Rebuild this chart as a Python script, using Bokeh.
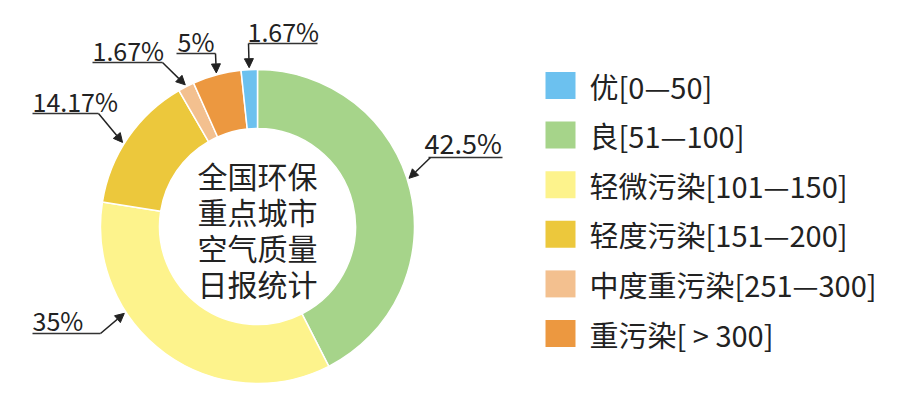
import math

from bokeh.core.properties import value
from bokeh.embed import file_html
from bokeh.models import Arrow, NormalHead, Range1d
from bokeh.plotting import figure
from bokeh.resources import INLINE

# data: air quality daily report share (clockwise from 12 o'clock)
categories = ["良[51—100]", "轻微污染[101—150]", "轻度污染[151—200]",
              "中度重污染[251—300]", "重污染[ > 300]", "优[0—50]"]
shares = [42.5, 35, 14.17, 1.67, 5, 1.67]
share_labels = ["42.5%", "35%", "14.17%", "1.67%", "5%", "1.67%"]
colors = ["#a6d48a", "#fdf38c", "#ecc83c", "#f3c08f", "#ec9840", "#6cc1ef"]

legend_order = ["优[0—50]", "良[51—100]", "轻微污染[101—150]",
                "轻度污染[151—200]", "中度重污染[251—300]", "重污染[ > 300]"]
center_title = ["全国环保", "重点城市", "空气质量", "日报统计"]

FONT = "Noto Sans CJK SC"
W, H = 893, 384


def Y(img_y):
    # picture rows (top = 0) -> data y
    return H - img_y


cx, cy = 257, Y(226)
r_out, r_in = 157, 98

p = figure(width=W, height=H, output_backend="svg", toolbar_location=None,
           x_range=Range1d(0, W), y_range=Range1d(0, H),
           min_border=0)
p.axis.visible = False
p.grid.visible = False
p.outline_line_color = None

total = sum(shares)
starts, ends = [], []
acc = 0.0
for s in shares:
    starts.append(acc / total * 2 * math.pi)
    acc += s
    ends.append(acc / total * 2 * math.pi)

p.annular_wedge(x=cx, y=cy, inner_radius=r_in, outer_radius=r_out,
                start_angle=[math.pi / 2 - a for a in starts],
                end_angle=[math.pi / 2 - a for a in ends],
                direction="clock", fill_color=colors,
                line_color="white", line_width=1.5)

# label layout: text left/middle, underline span, leader start, tip fraction
text_pos = [(424, 142), (32, 319), (32, 100), (92, 49), (177, 40), (247, 30)]
text_size = ["27px", "25px", "25px", "25px", "25px", "25px"]
under = [(428, 502, 157), (32, 100, 333), (32, 98, 113),
         (92, 162, 62), (176, 215, 53), (248, 317, 43)]
lead_from = [(430, 157), (100, 333), (98, 113), (162, 62), (215, 53), (248, 43)]
tip_frac = [0.473, 0.666, 0.45, 0.5, 0.5, 0.5]

for i, lab in enumerate(share_labels):
    tx, ty = text_pos[i]
    p.text(x=[tx], y=[Y(ty)], text=[lab], text_font=value(FONT),
           text_font_size=text_size[i], text_color="#222222",
           text_baseline="middle", text_align="left")
    x0, x1, uy = under[i]
    p.segment(x0=[x0], y0=[Y(uy)], x1=[x1], y1=[Y(uy)],
              line_color="#333333", line_width=1.5)
    ang = starts[i] + tip_frac[i] * (ends[i] - starts[i])
    rt = r_out + 2
    tipx = cx + rt * math.sin(ang)
    tipy = cy + rt * math.cos(ang)
    lx, ly = lead_from[i]
    p.add_layout(Arrow(x_start=lx, y_start=Y(ly), x_end=tipx, y_end=tipy,
                       line_color="#222222", line_width=1.5,
                       end=NormalHead(size=9, fill_color="#222222",
                                      line_color="#222222")))

# centre title
for j, line in enumerate(center_title):
    p.text(x=[cx], y=[Y(174 + j * 36)], text=[line], text_font=value(FONT),
           text_font_size="30px", text_color="#222222",
           text_align="center", text_baseline="middle")

# legend
for k, name in enumerate(legend_order):
    idx = categories.index(name)
    ly = Y(85 + k * 49.6)
    p.rect(x=[560], y=[ly], width=30, height=27, fill_color=colors[idx],
           line_color=None)
    p.text(x=[589], y=[ly], text=[name], text_font=value(FONT),
           text_font_size="29px", text_color="#222222",
           text_align="left", text_baseline="middle")

open("out.html", "w").write(file_html(p, INLINE))
